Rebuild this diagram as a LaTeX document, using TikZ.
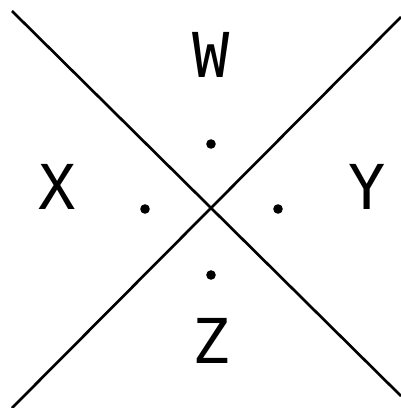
\documentclass[tikz,border=0pt]{standalone}
\usepackage{fontspec}
\setmonofont{DejaVu Sans Mono}
\usepackage{tikz}
\usetikzlibrary{positioning,calc}

\begin{document}
\begin{tikzpicture}[
      x=0.025cm, y=-0.025cm,
      line/.style={line width=1.9pt},
      spot/.style={circle, fill=black, inner sep=0pt, minimum size=0.24cm},
      lbl/.style={font=\ttfamily\fontsize{44}{50}\selectfont, inner sep=0pt},
    ]
      \useasboundingbox (0,0) rectangle (401,408);
      \coordinate (c) at (211,208);
      \coordinate (tl) at (12,11);
      \coordinate (br) at (401,396);
      \coordinate (tr) at (401,17);
      \coordinate (bl) at (12,408);
      \draw[line] (tl) -- (br);
      \draw[line] (bl) -- (tr);
      \node[spot] (dw) at (211,144) {};
      \node[spot] (dx) at (145,209) {};
      \node[spot] (dy) at (278,209) {};
      \node[spot] (dz) at (211,275) {};
      \node[lbl] (w) at (211,55) {W};
      \node[lbl] (x) at (57,187) {X};
      \node[lbl] (y) at (367,187) {Y};
      \node[lbl] (z) at (211,341) {Z};
    \end{tikzpicture}
\end{document}
